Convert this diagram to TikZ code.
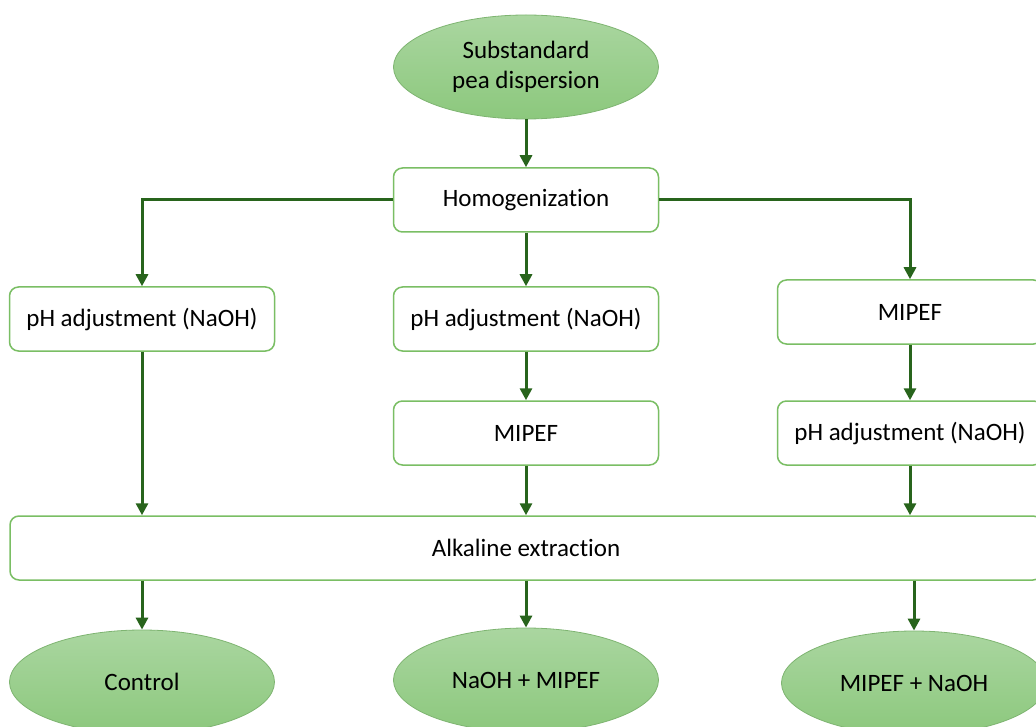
\documentclass[tikz,border=0pt]{standalone}
\usepackage{fontspec}
\setmainfont{Carlito}[Ligatures=NoCommon]
\usetikzlibrary{shapes.geometric, arrows.meta}
\definecolor{boxline}{RGB}{122,190,100}
\definecolor{arrowgreen}{RGB}{40,100,28}
\definecolor{elltop}{RGB}{170,214,160}
\definecolor{ellbot}{RGB}{140,200,125}
\tikzstyle{startstop} = [ellipse, minimum width=265pt, minimum height=104pt, inner sep=1pt, text centered, align=center, top color=elltop, bottom color=ellbot, draw=ellbot!90!black, line width=0.8pt]
\tikzstyle{process} = [rectangle, rounded corners=9pt, minimum width=265pt, minimum height=64pt, text centered, draw=boxline, line width=1.5pt, fill=white]
\tikzstyle{arrow} = [line width=3pt, draw=arrowgreen, -{Triangle[length=12pt,width=12pt]}]

\begin{document}
\begin{tikzpicture}[x=1pt, y=-1pt, font=\fontsize{25}{30}\selectfont]
            \clip (0,0) rectangle (1036,727);
            \node [startstop] at (526,67) (pea) {Substandard\\pea dispersion};
            \node [process] at (526,200) (homog) {Homogenization};
            \node [process] at (142,319) (phleft) {pH adjustment (NaOH)};
            \node [process] at (526,319) (phmid) {pH adjustment (NaOH)};
            \node [process] at (526,433) (mipefmid) {MIPEF};
            \node [process] at (910,312) (mipefright) {MIPEF};
            \node [process] at (910,433) (phright) {pH adjustment (NaOH)};
            \node [process, minimum width=1032pt] at (526,548) (alk) {Alkaline extraction};
            \node [startstop] at (142,682) (control) {Control};
            \node [startstop] at (526,680) (naohmipef) {NaOH + MIPEF};
            \node [startstop] at (914,683) (mipefnaoh) {MIPEF + NaOH};
            \draw [arrow] (pea) -- (homog);
            \draw [arrow] (homog.west) -| (phleft.north);
            \draw [arrow] (homog) -- (phmid);
            \draw [arrow] (homog.east) -| (mipefright.north);
            \draw [arrow] (phmid) -- (mipefmid);
            \draw [arrow] (mipefright) -- (phright);
            \draw [arrow] (phleft) -- (phleft |- alk.north);
            \draw [arrow] (mipefmid) -- (alk);
            \draw [arrow] (phright) -- (phright |- alk.north);
            \draw [arrow] (control |- alk.south) -- (control);
            \draw [arrow] (alk) -- (naohmipef);
            \draw [arrow] (mipefnaoh |- alk.south) -- (mipefnaoh);
            \end{tikzpicture}
\end{document}
